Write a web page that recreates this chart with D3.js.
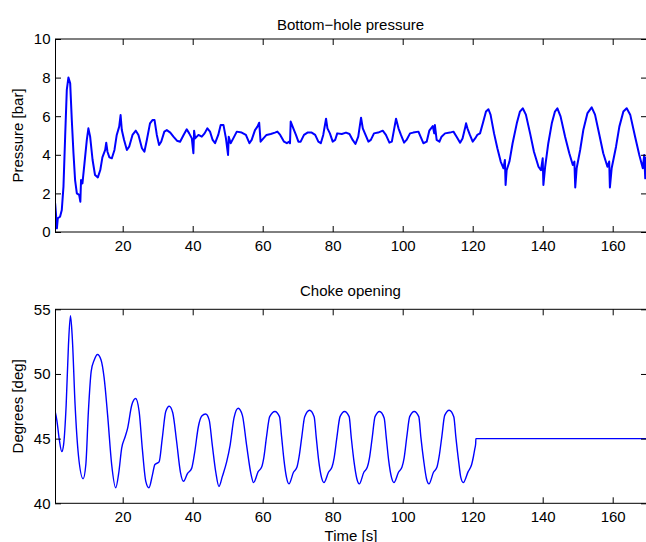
<!DOCTYPE html>
<html>
<head>
<meta charset="utf-8">
<script src="https://cdn.jsdelivr.net/npm/d3@7/dist/d3.min.js"></script>
<style>
  html, body { margin: 0; padding: 0; background: #fff; }
  svg { display: block; }
  text { font-family: "Liberation Sans", Arial, Helvetica, sans-serif; }
</style>
</head>
<body>
<svg id="chart" width="646" height="542"></svg>
<script>
// ---------- DATA ----------
const xTicks = [20, 40, 60, 80, 100, 120, 140, 160];
const pressureTicks = [0, 2, 4, 6, 8, 10];
const chokeTicks = [40, 45, 50, 55];

const pressureTime = [
  0.7, 1.0, 1.2, 1.46, 2.1, 2.6, 3.08, 3.56, 4.03, 4.5, 5.0, 5.46, 5.94, 6.4, 6.9, 7.56, 7.9, 8.1, 8.5, 9.08,
  9.75, 10.2, 10.7, 11.4, 12.1, 12.9, 13.6, 14.2, 15.0, 15.3, 15.65, 16.2, 16.9, 17.65, 18.3, 19.0, 19.4, 19.75, 20.4, 21.2,
  21.85, 22.8, 23.75, 24.5, 25.5, 26.2, 26.9, 27.8, 28.5, 29.1, 29.75, 30.4, 31.0, 31.9, 32.6, 33.6, 34.5, 35.5, 36.4, 37.4,
  38.3, 39.0, 39.75, 40.2, 40.4, 40.7, 41.65, 42.6, 43.4, 44.2, 44.95, 45.7, 46.4, 47.3, 48.0, 48.8, 49.5, 50.1, 50.3, 50.85,
  51.6, 52.6, 54.0, 55.2, 56.2, 56.85, 57.8, 58.5, 59.0, 59.4, 60.2, 61.1, 62.3, 63.5, 64.2, 65.0, 66.1, 66.9, 67.6, 67.8,
  68.0, 68.75, 69.5, 70.2, 70.85, 71.8, 72.8, 74.0, 75.0, 75.9, 76.6, 77.3, 78.1, 78.5, 79.2, 80.0, 80.7, 81.3, 82.6, 83.8,
  84.8, 85.7, 86.5, 87.3, 88.1, 88.6, 89.2, 90.2, 90.9, 91.8, 93.0, 94.3, 95.2, 96.2, 96.9, 97.5, 98.1, 98.8, 99.5, 100.4,
  101.1, 102.1, 103.0, 104.5, 105.1, 105.9, 106.85, 107.6, 108.6, 109.0, 109.2, 109.7, 110.5, 111.1, 112.1, 113.5, 114.5, 115.4, 116.4, 117.1,
  117.8, 118.1, 118.5, 119.2, 120.0, 120.7, 121.3, 122.1, 122.9, 123.8, 124.5, 125.1, 126.1, 127.05, 128.0, 128.8, 129.2, 129.4, 129.7, 130.5,
  131.4, 132.6, 133.5, 134.3, 135.2, 136.4, 137.5, 138.8, 139.5, 140.0, 140.2, 140.7, 141.6, 142.6, 143.5, 144.2, 145.1, 146.4, 147.6, 148.6,
  149.05, 149.3, 149.7, 150.7, 151.6, 152.8, 154.0, 154.95, 156.2, 157.3, 158.5, 159.0, 159.2, 159.7, 160.95, 161.9, 163.05, 164.0, 165.0, 166.4,
  167.6, 168.6, 169.0, 169.3, 169.6
];
const pressureValue = [
  1.49, 0.79, 0.19, 0.71, 0.79, 1.14, 2.35, 4.94, 7.36, 8.01, 7.7, 5.8, 4.08, 2.69, 2.0, 1.92, 1.57, 2.69, 2.52, 3.56,
  4.77, 5.37, 4.94, 3.73, 2.95, 2.83, 3.21, 3.87, 4.25, 4.63, 4.16, 3.87, 3.82, 4.25, 5.03, 5.46, 6.06, 5.28, 4.77, 4.25,
  4.42, 5.03, 5.25, 5.03, 4.34, 4.16, 4.77, 5.63, 5.8, 5.8, 5.03, 4.51, 4.68, 5.2, 5.28, 5.15, 4.94, 4.73, 4.68, 5.03,
  5.32, 5.11, 4.85, 4.08, 5.25, 4.85, 5.03, 4.94, 5.11, 5.37, 5.2, 4.77, 4.6, 5.03, 5.54, 5.54, 4.85, 3.99, 4.94, 4.6,
  4.85, 5.2, 5.15, 5.03, 4.6, 4.77, 5.28, 5.46, 5.66, 4.68, 4.85, 5.03, 5.08, 5.15, 5.2, 5.03, 4.68, 4.6, 4.68, 4.6,
  5.72, 5.37, 5.03, 4.68, 4.68, 5.03, 5.15, 5.15, 5.03, 4.68, 4.6, 5.03, 5.87, 5.37, 5.11, 4.68, 4.77, 5.11, 5.08, 5.15,
  5.08, 4.77, 4.56, 4.94, 5.92, 5.37, 5.11, 4.68, 4.77, 5.11, 5.15, 5.25, 5.03, 4.63, 4.68, 5.28, 5.87, 5.37, 5.03, 4.63,
  4.77, 5.11, 5.15, 5.2, 4.94, 4.6, 4.68, 5.25, 5.49, 5.11, 5.54, 4.77, 4.68, 4.94, 5.11, 5.15, 5.2, 4.94, 4.63, 4.85,
  5.37, 5.63, 5.37, 5.03, 4.68, 4.85, 5.03, 5.11, 5.63, 6.24, 6.36, 6.08, 5.11, 4.34, 3.65, 3.3, 3.73, 2.44, 3.2, 3.65,
  4.6, 5.63, 6.24, 6.41, 6.08, 5.11, 4.16, 3.38, 3.2, 3.82, 2.44, 3.38, 4.6, 5.63, 6.24, 6.41, 5.99, 4.94, 4.08, 3.47,
  3.65, 2.31, 3.3, 4.25, 5.28, 6.16, 6.46, 6.08, 5.03, 4.08, 3.38, 3.65, 2.31, 3.3, 4.42, 5.46, 6.24, 6.41, 6.08, 4.94,
  3.99, 3.3, 3.99, 2.78, 3.9
];

const chokeTime = [
  0.7, 1.2, 1.9, 2.6, 3.1, 3.85, 4.5, 5.08, 5.6, 6.4, 7.36, 8.7, 9.47, 10.2, 11.0, 11.9, 12.8, 13.8, 14.7, 15.7,
  16.85, 18.0, 18.9, 19.7, 20.7, 21.4, 22.6, 23.7, 24.7, 25.6, 26.6, 27.5, 28.5, 29.2, 30.4, 31.3, 32.3, 33.3, 34.3, 35.4,
  36.5, 37.4, 38.5, 39.7, 40.6, 41.6, 42.6, 43.7, 44.7, 45.6, 46.6, 47.5, 48.5, 49.7, 50.7, 51.8, 53.0, 54.2, 55.4, 56.7,
  57.4, 58.7, 59.7, 60.3, 61.1, 62.0, 63.5, 64.8, 65.4, 66.1, 66.8, 67.5,
  68.8, 69.8, 70.4, 71.2, 72.0, 73.4, 74.7, 75.3, 76.0, 76.8, 77.5,
  78.8, 79.8, 80.4, 81.2, 82.1, 83.4, 84.7, 85.3, 86.1, 86.9, 87.6,
  88.9, 89.9, 90.5, 91.3, 92.1, 93.4, 94.7, 95.3, 96.0, 96.8, 97.5,
  98.8, 99.8, 100.4, 101.2, 102.0, 103.3, 104.6, 105.2, 106.0, 106.8, 107.5,
  108.8, 109.8, 110.4, 111.2, 112.0, 113.3, 114.6, 115.2, 116.0, 116.6, 117.3,
  118.7, 119.7, 120.2, 120.6, 120.85, 120.9, 169.8
];
const chokeValue = [
  47.1, 46.4, 44.9, 44.0, 44.5, 47.6, 52.2, 54.5, 52.8, 47.6, 43.7, 41.9, 43.0, 47.1, 50.2, 51.1, 51.5, 51.1, 49.7, 46.8,
  43.0, 41.2, 42.4, 44.25, 45.15, 45.8, 47.6, 48.1, 47.1, 44.25, 41.7, 41.2, 42.2, 43.0, 43.2, 45.0, 47.1, 47.5, 47.0, 44.8,
  42.4, 41.7, 42.3, 42.7, 44.0, 45.9, 46.75, 46.9, 46.45, 44.5, 42.4, 41.3, 42.1, 43.2, 44.5, 46.6, 47.35, 46.8, 44.5, 42.2,
  41.6, 42.45, 42.8, 43.5, 45.15, 46.7, 47.1, 46.7, 45.15, 43.3, 42.0, 41.5,
  42.4, 42.8, 43.6, 45.2, 46.7, 47.2, 46.7, 45.1, 43.3, 42.0, 41.6,
  42.4, 42.8, 43.5, 45.1, 46.7, 47.1, 46.7, 45.1, 43.2, 41.9, 41.5,
  42.4, 42.8, 43.5, 45.1, 46.7, 47.1, 46.6, 45.1, 43.3, 42.0, 41.6,
  42.4, 42.8, 43.5, 45.2, 46.7, 47.1, 46.7, 45.1, 43.3, 41.9, 41.5,
  42.4, 42.8, 43.6, 45.2, 46.8, 47.2, 46.7, 45.1, 43.2, 42.0, 41.6,
  42.45, 43.0, 43.6, 44.2, 44.6, 45.0, 45.0
];

// ---------- LAYOUT ----------
const svg = d3.select("#chart");
const W = 646, H = 542;
svg.append("rect").attr("width", W).attr("height", H).attr("fill", "#fff");

const left = 55, right = 647;
const FONT = 15;
const TICK = 6;
const BLUE = "#0000ff";

const x = d3.scaleLinear().domain([0.66, 169.8]).range([left, right]);

const panels = [
  { top: 39, bottom: 232, domain: [0, 10], ticks: pressureTicks, title: "Bottom\u2212hole pressure",
    ylabel: "Pressure [bar]", t: pressureTime, v: pressureValue, width: 2.0, curve: d3.curveLinear, titleY: 29.5 },
  { top: 309.3, bottom: 503.3, domain: [40, 55], ticks: chokeTicks, title: "Choke opening",
    ylabel: "Degrees [deg]", t: chokeTime, v: chokeValue, width: 1.4, curve: d3.curveMonotoneX, titleY: 295.7 }
];

panels.forEach((p, i) => {
  const y = d3.scaleLinear().domain(p.domain).range([p.bottom, p.top]);
  const g = svg.append("g");

  // clip
  const clipId = "clip" + i;
  svg.append("defs").append("clipPath").attr("id", clipId)
    .append("rect").attr("x", left).attr("y", p.top).attr("width", right - left).attr("height", p.bottom - p.top);

  // line
  const data = p.t.map((t, k) => [t, p.v[k]]);
  const line = d3.line().x(d => x(d[0])).y(d => y(d[1])).curve(p.curve);
  g.append("path").datum(data)
    .attr("clip-path", `url(#${clipId})`)
    .attr("fill", "none").attr("stroke", BLUE).attr("stroke-width", p.width)
    .attr("stroke-linejoin", "round")
    .attr("d", line);

  // axes
  const bottomAxis = d3.axisBottom(x).tickValues(xTicks).tickSizeInner(-TICK).tickSizeOuter(0).tickPadding(8);
  const topAxis = d3.axisTop(x).tickValues(xTicks).tickSizeInner(-TICK).tickSizeOuter(0).tickFormat("");
  const leftAxis = d3.axisLeft(y).tickValues(p.ticks).tickSizeInner(-TICK).tickSizeOuter(0).tickPadding(4.5);
  const rightAxis = d3.axisRight(y).tickValues(p.ticks).tickSizeInner(-TICK).tickSizeOuter(0).tickFormat("");

  const styleAxis = sel => {
    sel.select(".domain").remove();
    sel.selectAll("line").attr("stroke", "#000").attr("stroke-width", 1);
    sel.selectAll("text").attr("fill", "#000").style("font-size", FONT + "px")
      .style("font-family", '"Liberation Sans", Arial, Helvetica, sans-serif');
  };
  g.append("g").attr("transform", `translate(0,${p.bottom})`).call(bottomAxis).call(styleAxis);
  g.append("g").attr("transform", `translate(0,${p.top})`).call(topAxis).call(styleAxis);
  g.append("g").attr("transform", `translate(${left},0)`).call(leftAxis).call(styleAxis);
  g.append("g").attr("transform", `translate(${right},0)`).call(rightAxis).call(styleAxis);

  // frame
  g.append("rect").attr("x", left + 0.5).attr("y", p.top).attr("width", right - left - 0.5)
    .attr("height", p.bottom - p.top).attr("fill", "none").attr("stroke", "#000").attr("stroke-width", 1);

  // title
  svg.append("text").attr("x", (left + 646) / 2 + 0).attr("y", p.titleY)
    .attr("text-anchor", "middle").style("font-size", FONT + "px").text(p.title);

  // y label
  svg.append("text")
    .attr("transform", `translate(22.5,${(p.top + p.bottom) / 2}) rotate(-90)`)
    .attr("text-anchor", "middle").style("font-size", FONT + "px").text(p.ylabel);
});

// x label
svg.append("text").attr("x", 351).attr("y", 540.5).attr("text-anchor", "middle")
  .style("font-size", FONT + "px").text("Time [s]");
</script>
</body>
</html>
